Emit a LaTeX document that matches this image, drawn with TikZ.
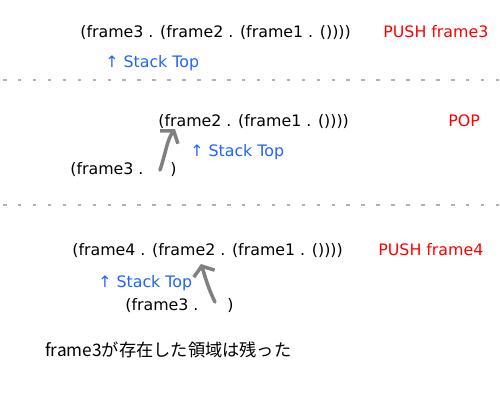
\documentclass[tikz,border=0pt]{standalone}
\usepackage{fontspec}
\setmainfont{DejaVu Sans}
\newfontfamily\jpfont{Noto Sans CJK JP}
\usetikzlibrary{arrows.meta}
\definecolor{opred}{RGB}{255,0,0}
\definecolor{topblue}{RGB}{30,100,255}
\tikzset{cell/.style = {anchor=base west, inner sep=0pt,
                        font=\fontsize{9}{11}\selectfont},
         op/.style = {cell, text=opred},
         stacktop/.style = {cell, text=topblue},
         divider/.style = {gray!60, line width=0.8pt,
                           dash pattern=on 2pt off 6.5pt},
         link/.style = {gray, line width=2pt, line cap=round,
                        -{Straight Barb[length=1.6mm,width=4.4mm]}}}

\begin{document}
\begin{tikzpicture}[x=0.02cm, y=-0.02cm]
  \useasboundingbox (0,0) rectangle (500,400);
  % PUSH frame3
  \node [cell] (list1) at (80,37) {(frame3 . (frame2 . (frame1 . ())))};
  \node [op] (push3) at (383,37) {PUSH frame3};
  \node [stacktop] (top1) at (105,67) {↑ Stack Top};
  \draw [divider] (3,80) -- (500,80);
  % POP
  \node [cell] (list2) at (158,126) {(frame2 . (frame1 . ())))};
  \node [op] (pop) at (448,126) {POP};
  \node [stacktop] (top2) at (190,156) {↑ Stack Top};
  \node [cell] (old2) at (70,174) {(frame3 .};
  \node [cell] (close2) at (170,174) {)};
  \coordinate (from2) at (160,170);
  \coordinate (to2) at (175,129);
  \draw [link] (from2) .. controls (166,152) and (167,140) .. (to2);
  \draw [divider] (3,205) -- (500,205);
  % PUSH frame4
  \node [cell] (list3) at (72,255) {(frame4 . (frame2 . (frame1 . ())))};
  \node [op] (push4) at (378,255) {PUSH frame4};
  \node [stacktop] (top3) at (98,287) {↑ Stack Top};
  \node [cell] (old3) at (125,310) {(frame3 .};
  \node [cell] (close3) at (227,310) {)};
  \coordinate (from3) at (215,302);
  \coordinate (to3) at (201,264);
  \draw [link] (from3) .. controls (208,288) and (205,276) .. (to3);
  \node [cell, font=\jpfont\fontsize{9.8}{12}\selectfont] (note) at (45,356)
    {frame3が存在した領域は残った};
\end{tikzpicture}
\end{document}
